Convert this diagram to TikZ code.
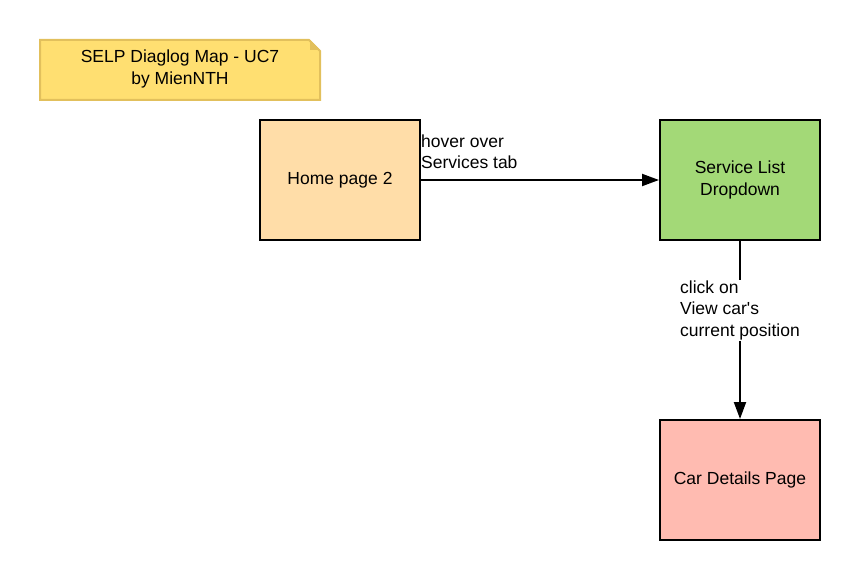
\documentclass[tikz,border=0pt]{standalone}
\usepackage{fontspec}
\setmainfont{Liberation Sans}
\usetikzlibrary{arrows.meta}
\definecolor{notefill}{HTML}{FFDF71}
\definecolor{noteline}{HTML}{E2C05C}
\definecolor{homefill}{HTML}{FFDDA8}
\definecolor{svcfill}{HTML}{A3D977}
\definecolor{carfill}{HTML}{FFBBB1}
\tikzset{
  x=1pt, y=-1pt,
  pagebox/.style={draw=black, line width=2pt, minimum width=160pt, minimum height=120pt, inner sep=0pt, align=center, font=\fontsize{17.5}{21.5}\selectfont},
  conn/.style={draw=black, line width=2pt, -{Triangle[length=17pt,width=12pt]}},
  lbl/.style={align=left, font=\fontsize{17.5}{21.5}\selectfont, inner sep=1pt},
}
\begin{document}
\begin{tikzpicture}
\useasboundingbox (0,0) rectangle (860,580);
% note
\fill[notefill] (40,40) -- (310,40) -- (320,50) -- (320,100) -- (40,100) -- cycle;
\draw[noteline, line width=2pt] (40,40) -- (309,40) -- (320,51) -- (320,100) -- (40,100) -- cycle;
\fill[noteline] (310,40) -- (320,50) -- (310,50) -- cycle;
\node[align=center, font=\fontsize{17.5}{22}\selectfont] (note) at (180,69) {SELP Diaglog Map - UC7\\by MienNTH};
% boxes
\node[pagebox, fill=homefill] (home) at (340,180) {Home page 2};
\node[pagebox, fill=svcfill] (svc) at (740,180) {Service List\\Dropdown};
\node[pagebox, fill=carfill] (car) at (740,480) {Car Details Page};
% connectors
\draw[conn] (home.east) -- (svc.west);
\node[lbl, anchor=south west] (l1) at (420,170) {hover over\\Services tab};
\draw[conn] (svc.south) -- node[lbl, fill=white, pos=0.39] (l2) {click on\\View car\textquotesingle s\\current position} (car.north);
\end{tikzpicture}
\end{document}
